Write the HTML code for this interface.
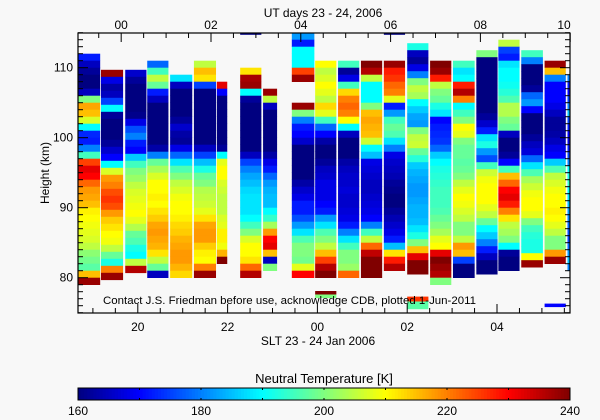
<!DOCTYPE html>
<html><head><meta charset="utf-8">
<style>
html,body{margin:0;padding:0;background:#f8f8f8;}
svg{display:block;font-family:"Liberation Sans",sans-serif;}
</style></head>
<body>
<svg id="chart" width="600" height="420" viewBox="0 0 600 420" xmlns="http://www.w3.org/2000/svg">
<rect x="0" y="0" width="600" height="420" fill="#f8f8f8"/>
<defs><clipPath id="plotclip"><rect x="78" y="33" width="492" height="280"/></clipPath></defs>
<g id="cells" clip-path="url(#plotclip)"></g>
<g id="axes"></g>
<g id="cbar"></g>
</svg>
<script>
// ---- data (SLT hours, km, Kelvin) ----
const colStart = [18.67,19.18,19.72,20.21,20.72,21.25,21.76,22.28,22.79,23.43,23.95,24.46,24.97,25.48,26.00,26.51,27.02,27.54,28.03,28.54,29.06,29.57];
const colEnd   = [19.18,19.69,20.21,20.70,21.23,21.76,22.01,22.77,23.12,23.95,24.44,24.95,25.46,25.97,26.49,27.00,27.52,28.03,28.52,29.04,29.55,29.70];
const colTop   = [112,109.7,109.7,111,109,111,108,110,107,115,111,111,111,111,113.5,111,111,112.5,114,112.5,111,109];
const colValues = [
 [172,165,162,160,160,165,200,217,215,207,190,173,172,180,195,225,232,230,222,218,217,215,211,210,209,208,207,205,201,199,197,215,238],
 [238,168,163,165,175,190,162,160,160,160,162,166,170,190,207,218,220,224,226,224,218,214,212,210,209,205,198,192,220,238],
 [166,162,160,160,160,160,161,168,176,180,172,170,186,195,200,202,205,207,208,209,210,208,204,198,196,192,190,205,236],
 [178,195,205,198,172,165,160,160,160,160,160,160,163,180,198,203,207,210,210,211,210,212,214,217,218,217,216,212,205,198,165],
 [188,165,160,160,160,160,162,166,163,162,168,178,188,196,200,205,207,209,210,210,211,213,214,216,217,218,218,216,213],
 [205,215,212,175,160,160,160,160,160,160,160,160,165,175,185,192,198,200,204,205,206,208,212,217,218,218,214,211,210,220,238],
 [232,170,160,160,160,160,160,160,160,162,190,208,210,210,207,206,205,205,205,207,208,211,211,209,216,240],
 [212,237,238,190,162,160,160,160,160,160,160,160,165,175,180,183,185,187,188,188,188,190,195,200,207,210,210,212,222,236],
 [238,205,165,160,160,160,160,160,160,163,168,172,178,182,184,185,185,190,194,203,218,230,232,215,165,200],
 [182,172,190,190,190,225,238,null,null,null,238,200,180,172,170,166,160,160,160,160,160,163,166,168,172,172,176,182,188,196,200,200,199,208,230],
 [210,205,207,210,208,205,213,208,195,178,170,163,160,160,162,165,166,168,168,168,170,172,182,188,196,200,205,215,225,236,240],
 [195,162,168,195,213,220,222,220,210,190,165,160,160,160,163,165,166,166,167,166,166,167,168,172,180,188,195,200,200,202,222],
 [240,236,205,190,190,190,200,215,217,216,215,206,190,185,168,167,166,165,165,166,167,168,170,180,195,205,222,235,240,240,240],
 [238,228,226,222,220,208,172,182,195,198,196,188,180,168,166,165,164,162,161,160,160,162,164,166,168,172,185,212,228,236],
 [192,165,162,168,180,200,205,203,190,186,183,182,200,205,206,198,193,186,184,183,182,182,183,184,184,185,188,192,200,215,232,240,240],
 [240,238,228,205,200,198,192,188,170,172,173,174,178,186,190,192,193,194,195,195,195,196,198,200,203,208,210,232,240,238,236,200],
 [195,188,190,228,236,220,190,195,200,210,208,200,198,198,197,198,200,205,208,210,209,207,205,200,200,205,218,215,175,160,160],
 [200,160,160,160,160,160,160,160,160,162,166,172,188,192,182,176,195,206,209,210,210,210,208,205,198,190,186,180,172,165,160,160],
 [205,175,172,188,190,190,191,193,196,204,204,200,198,165,160,160,162,170,195,215,222,230,232,228,220,212,205,203,200,190,162,160,160],
 [195,180,160,160,160,162,178,182,170,160,160,160,162,165,167,178,188,196,203,206,209,210,210,208,200,195,193,192,192,210,238],
 [238,215,180,170,170,170,168,165,162,162,163,165,168,170,186,196,205,207,209,210,210,211,210,208,205,200,200,218,238],
 [180,172,170,175,180,185,175,172,170,168,172,175,180,190,192,194,190,188,185,182,180,178,176,175,178,182,185,180]
];
const fragCol = [7,13,10,10,14,14,20];
const fragTop = [115,115,78.1,77.6,77.3,76.6,76.3];
const fragBot = [114.7,114.7,77.6,77.1,76.6,75.5,75.8];
const fragVal = [160,160,240,200,226,197,170];
const sltTicks = [20,22,24,26,28];
const sltLabels = ["20","22","00","02","04"];
const utTicks = [0,2,4,6,8,10];
const utLabels = ["00","02","04","06","08","10"];
const hTicks = [80,90,100,110];
const cbTicks = [160,180,200,220,240];

// ---- scales ----
const X0=78, X1=570, Y0=33, Y1=313;
function xS(t){ return 317.4 + (t-24)*44.9; }
function xU(ut){ return xS(ut + 24 - 4.37 - 24 + 24 - 24 + 24 - 4.0 + 0) ; }
function yH(h){ return 277.7 - (h-80)*7; }
const UTOFF = 4.37;
function xUT(ut){ return xS(ut - UTOFF + 24); }
function jet(v){
  let f=(v-160)/80; f=Math.max(0,Math.min(1,f));
  const c=x=>Math.round(255*Math.max(0,Math.min(1,x)));
  const r=c(1.5-Math.abs(4*f-3)), g=c(1.5-Math.abs(4*f-2)), b=c(1.5-Math.abs(4*f-1));
  return `rgb(${r},${g},${b})`;
}
const NS="http://www.w3.org/2000/svg";
function mk(tag,attrs,parent){const e=document.createElementNS(NS,tag);for(const k in attrs)e.setAttribute(k,attrs[k]);parent.appendChild(e);return e;}

// ---- cells ----
const cells=document.getElementById('cells');
for(let i=0;i<colValues.length;i++){
  const xa=xS(colStart[i]), xb=xS(colEnd[i]);
  colValues[i].forEach((v,j)=>{
    if(v===null) return;
    const ht=colTop[i]-j, hb=ht-1;
    const r=mk('rect',{x:xa.toFixed(2),y:yH(ht).toFixed(2),width:(xb-xa-0.8).toFixed(2),height:(yH(hb)-yH(ht)+0.3).toFixed(2),fill:jet(v)},cells);
    
    
  });
}
for(let k=0;k<fragCol.length;k++){
  const i=fragCol[k];
  const xa=xS(colStart[i]), xb=xS(colEnd[i]);
  const r=mk('rect',{x:xa.toFixed(2),y:yH(fragTop[k]).toFixed(2),width:(xb-xa-0.8).toFixed(2),height:(yH(fragBot[k])-yH(fragTop[k])).toFixed(2),fill:jet(fragVal[k])},cells);
  
  
}

// ---- axes ----
const ax=document.getElementById('axes');
const frame=mk('rect',{x:X0,y:Y0,width:X1-X0,height:Y1-Y0,fill:'none',stroke:'#000','stroke-width':1.2},ax);


// left/right height ticks every km
for(let h=75;h<=115;h++){
  const L=(h%10===0)?10:5, y=yH(h);
  mk('line',{x1:X0,x2:X0+L,y1:y,y2:y,stroke:'#000'},ax);
  mk('line',{x1:X1,x2:X1-L,y1:y,y2:y,stroke:'#000'},ax);
}
hTicks.forEach(h=>{
  const t=mk('text',{x:X0-5,y:yH(h)+4,'text-anchor':'end','font-size':12},ax);
  t.textContent=String(h);
  
  
});
// bottom SLT ticks every half hour
for(let t=18.5;t<=29.7;t+=0.5){
  const x=xS(t); if(x<X0||x>X1) continue;
  const L=(Math.abs(t%2)<1e-6)?9:5;
  mk('line',{x1:x,x2:x,y1:Y1,y2:Y1-L,stroke:'#000'},ax);
}
sltTicks.forEach((t,i)=>{
  const e=mk('text',{x:xS(t),y:331,'text-anchor':'middle','font-size':12},ax);
  e.textContent=sltLabels[i];
  
  
});
// top UT ticks
for(let u=-0.5;u<=10.5;u+=0.5){
  const x=xUT(u); if(x<X0||x>X1+0.5) continue;
  const L=(Math.abs(u%2)<1e-6)?9:5;
  mk('line',{x1:x,x2:x,y1:Y0,y2:Y0+L,stroke:'#000'},ax);
}
utTicks.forEach((u,i)=>{
  const e=mk('text',{x:Math.min(xUT(u),564),y:29,'text-anchor':'middle','font-size':12},ax);
  e.textContent=utLabels[i];
  
  
});
let tt=mk('text',{x:323,y:17,'text-anchor':'middle','font-size':12},ax);
tt.textContent='UT days 23 - 24, 2006';


let xt=mk('text',{x:318,y:345,'text-anchor':'middle','font-size':12},ax);
xt.textContent='SLT 23 - 24 Jan 2006';


let yt=mk('text',{x:0,y:0,'text-anchor':'middle','font-size':12,transform:'translate(49,173) rotate(-90)'},ax);
yt.textContent='Height (km)';


let ct=mk('text',{x:103,y:304,'font-size':11,textLength:373,lengthAdjust:'spacingAndGlyphs'},ax);
ct.textContent='Contact J.S. Friedman before use, acknowledge CDB, plotted 1-Jun-2011';



// ---- colorbar ----
const cb=document.getElementById('cbar');
const CB0=78, CB1=570, CBY=388, CBH=12;
for(let v=160;v<240;v+=0.5){
  const xa=CB0+(v-160)/80*(CB1-CB0);
  mk('rect',{x:xa.toFixed(2),y:CBY,width:((CB1-CB0)/160+0.4).toFixed(2),height:CBH,fill:jet(v+0.25)},cb);
}
const cbf=mk('rect',{x:CB0,y:CBY,width:CB1-CB0,height:CBH,fill:'none',stroke:'#000','stroke-width':1},cb);


for(let v=170;v<240;v+=10){
  const x=CB0+(v-160)/80*(CB1-CB0);
  mk('line',{x1:x,x2:x,y1:CBY,y2:CBY+2,stroke:'#000'},cb);
  mk('line',{x1:x,x2:x,y1:CBY+CBH,y2:CBY+CBH-2,stroke:'#000'},cb);
}
cbTicks.forEach(v=>{
  const e=mk('text',{x:CB0+(v-160)/80*(CB1-CB0),y:415,'text-anchor':'middle','font-size':12},cb);
  e.textContent=String(v);
  
  
});
let cbt=mk('text',{x:324,y:383,'text-anchor':'middle','font-size':13},cb);
cbt.textContent='Neutral Temperature [K]';


</script>
</body></html>
